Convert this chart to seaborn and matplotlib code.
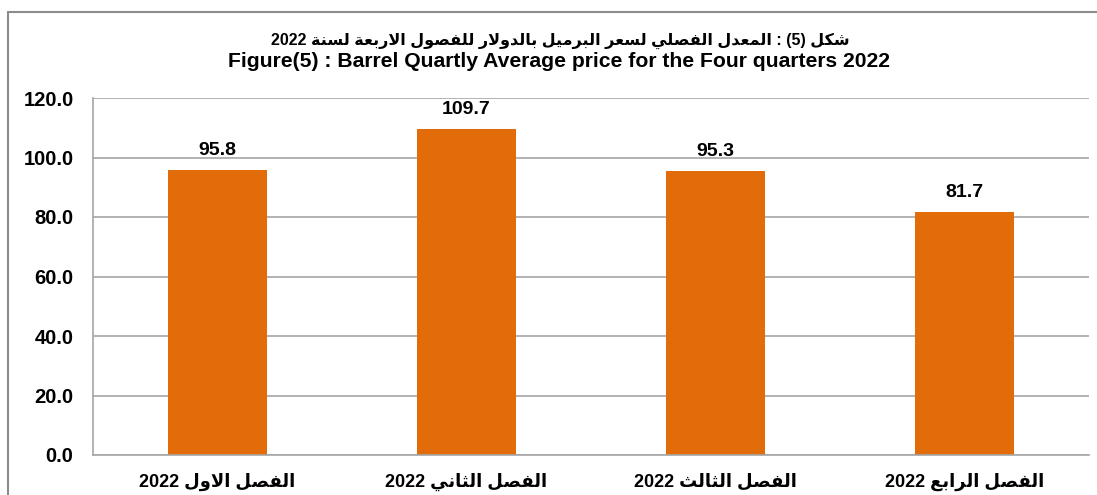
import matplotlib
matplotlib.use("Agg")
import matplotlib.pyplot as plt
from matplotlib.lines import Line2D
import seaborn as sns
import pandas as pd

# data
quarters = ["الفصل الاول 2022", "الفصل الثاني 2022", "الفصل الثالث 2022", "الفصل الرابع 2022"]
prices = [95.8, 109.7, 95.3, 81.7]
yticks = [0, 20, 40, 60, 80, 100, 120]
title_ar = "شكل (5) : المعدل الفصلي لسعر البرميل بالدولار للفصول الاربعة لسنة 2022"
title_en = "Figure(5) : Barrel Quartly Average price for the Four quarters 2022"

# matplotlib has no arabic shaping, so pick presentation forms by hand
FORMS = {
    "ا": ("\uFE8D", "\uFE8E"),
    "ب": ("\uFE8F", "\uFE90", "\uFE91", "\uFE92"),
    "ة": ("\uFE93", "\uFE94"),
    "ت": ("\uFE95", "\uFE96", "\uFE97", "\uFE98"),
    "ث": ("\uFE99", "\uFE9A", "\uFE9B", "\uFE9C"),
    "د": ("\uFEA9", "\uFEAA"),
    "ر": ("\uFEAD", "\uFEAE"),
    "س": ("\uFEB1", "\uFEB2", "\uFEB3", "\uFEB4"),
    "ش": ("\uFEB5", "\uFEB6", "\uFEB7", "\uFEB8"),
    "ص": ("\uFEB9", "\uFEBA", "\uFEBB", "\uFEBC"),
    "ع": ("\uFEC9", "\uFECA", "\uFECB", "\uFECC"),
    "ف": ("\uFED1", "\uFED2", "\uFED3", "\uFED4"),
    "ك": ("\uFED9", "\uFEDA", "\uFEDB", "\uFEDC"),
    "ل": ("\uFEDD", "\uFEDE", "\uFEDF", "\uFEE0"),
    "م": ("\uFEE1", "\uFEE2", "\uFEE3", "\uFEE4"),
    "ن": ("\uFEE5", "\uFEE6", "\uFEE7", "\uFEE8"),
    "و": ("\uFEED", "\uFEEE"),
    "ي": ("\uFEF1", "\uFEF2", "\uFEF3", "\uFEF4"),
    "لا": ("\uFEFB", "\uFEFC"),
}


def shape_word(w):
    units = []
    i = 0
    while i < len(w):
        if w[i] == "ل" and i + 1 < len(w) and w[i + 1] == "ا":
            units.append("لا")
            i += 2
        else:
            units.append(w[i])
            i += 1
    out = []
    for k, u in enumerate(units):
        f = FORMS.get(u)
        if f is None:
            out.append(u)
            continue
        prev = units[k - 1] if k > 0 else None
        nxt = units[k + 1] if k + 1 < len(units) else None
        join_prev = prev in FORMS and len(FORMS[prev]) == 4
        join_next = len(f) == 4 and nxt in FORMS
        if join_prev and join_next:
            out.append(f[3])
        elif join_prev:
            out.append(f[1])
        elif join_next:
            out.append(f[2])
        else:
            out.append(f[0])
    return "".join(reversed(out))


def rtl(text):
    tokens = text.split(" ")
    vis = [shape_word(t) if any(c in FORMS for c in t) else t for t in tokens]
    return " ".join(reversed(vis))


sns.set_style("white")
plt.rcParams["font.family"] = ["Liberation Sans", "DejaVu Sans"]
plt.rcParams["font.weight"] = "bold"
plt.rcParams["text.color"] = "black"
plt.rcParams["xtick.color"] = "black"
plt.rcParams["ytick.color"] = "black"

df = pd.DataFrame({"quarter": [rtl(q) for q in quarters], "price": prices})

W, H = 1097, 495
fig, ax = plt.subplots(figsize=(W / 100, H / 100), dpi=100)
fig.subplots_adjust(left=93 / W, right=1089 / W, top=1 - 98 / H, bottom=1 - 455 / H)

sns.barplot(data=df, x="quarter", y="price", color="#E36C0A", saturation=1,
            width=0.4, linewidth=0, ax=ax)

ax.set_ylim(0, 120)
ax.set_yticks(yticks)
ax.set_yticklabels([f"{v:.1f}" for v in yticks])
ax.yaxis.grid(True, color="#A6A6A6", linewidth=1.2)
ax.set_axisbelow(True)
ax.tick_params(axis="y", length=0, pad=14, labelsize=14.5, labelcolor="black")
ax.tick_params(axis="x", length=0, pad=13, labelsize=13, labelcolor="black")
ax.set_xlabel("")
ax.set_ylabel("")
for s in ["top", "right"]:
    ax.spines[s].set_visible(False)
for s in ["left", "bottom"]:
    ax.spines[s].set_color("#A6A6A6")
    ax.spines[s].set_linewidth(1.2)

ax.bar_label(ax.containers[0], fmt="%.1f", padding=8, fontsize=14,
             fontweight="bold", color="black")

fig.text(560 / W, 1 - 45 / H, rtl(title_ar), ha="center", va="baseline",
         fontsize=11.5, fontweight="bold", color="black")
fig.text(559 / W, 1 - 67 / H, title_en, ha="center", va="baseline",
         fontsize=15.2, fontweight="bold", color="black")

# outer chart frame
fig.add_artist(Line2D([7.5 / W, 7.5 / W], [0, 1 - 12 / H], transform=fig.transFigure,
                      color="#8C8C8C", linewidth=1.5))
fig.add_artist(Line2D([7.5 / W, 1], [1 - 12 / H, 1 - 12 / H], transform=fig.transFigure,
                      color="#8C8C8C", linewidth=1.5))

fig.savefig("out.png", dpi=100)
